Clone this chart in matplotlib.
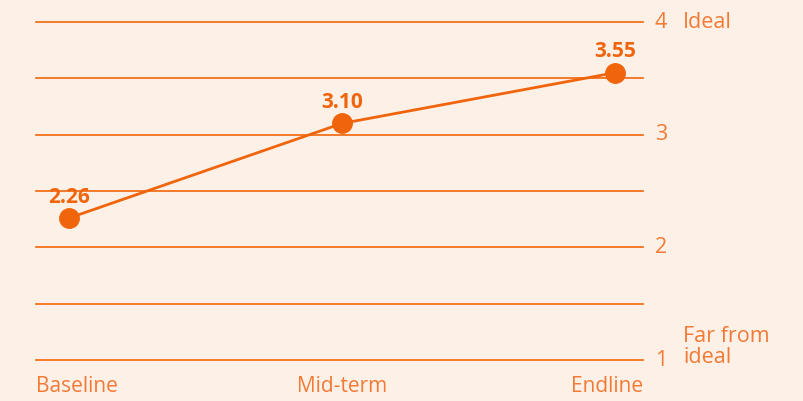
import matplotlib
matplotlib.use('Agg')
import matplotlib.pyplot as plt

# -----------------------------------------------------------------------
# Data
# -----------------------------------------------------------------------
stages = ["Baseline", "Mid-term", "Endline"]
scores = [2.26, 3.10, 3.55]
y_ticks = [1, 2, 3, 4]
grid_levels = [1, 1.5, 2, 2.5, 3, 3.5, 4]

BG = "#fdf0e7"
LINE = "#f0650c"
TEXT = "#f27a35"

plt.rcParams['font.family'] = ['Open Sans', 'DejaVu Sans']

fig = plt.figure(figsize=(8.04, 4.01), dpi=100, facecolor=BG)
ax = fig.add_axes([36 / 804, 41 / 401, 607 / 804, 338 / 401])
ax.set_facecolor(BG)

XL, XR = -0.121, 2.102
x = list(range(len(stages)))
ax.set_xlim(XL, XR)
ax.set_ylim(1, 4)

for lvl in grid_levels:
    ax.axhline(lvl, color=LINE, linewidth=1.2, clip_on=False, zorder=1)

ax.plot(x, scores, color=LINE, linewidth=2.0, marker='o', markersize=14,
        zorder=3, clip_on=False)

for xi, v in zip(x, scores):
    ax.annotate(f"{v:.2f}", (xi, v), xytext=(0, 15), textcoords='offset points',
                ha='center', va='center', fontsize=15, fontweight='bold',
                color=LINE)

for s in ax.spines.values():
    s.set_visible(False)
ax.set_xticks([])
ax.set_yticks([])

# x labels: left / centre / right aligned
aligns = ['left', 'center', 'right']
xpos = [XL, 1, XR]
for xp, lab, ha in zip(xpos, stages, aligns):
    ax.annotate(lab, (xp, 1), xytext=(0, -19), textcoords='offset points',
                ha=ha, va='center', fontsize=15, color=TEXT,
                annotation_clip=False)

# right side y labels
for t in y_ticks:
    ax.annotate(str(t), (XR, t), xytext=(13, 0), textcoords='offset points',
                ha='center', va='center', fontsize=15.5, color=TEXT,
                annotation_clip=False)

ax.annotate("Ideal", (XR, 4), xytext=(29, 0), textcoords='offset points',
            ha='left', va='center', fontsize=15.5, color=TEXT,
            annotation_clip=False)
ax.annotate("Far from\nideal", (XR, 1.115), xytext=(29, 0),
            textcoords='offset points', ha='left', va='center', fontsize=15.5,
            color=TEXT, linespacing=1.0, annotation_clip=False)

plt.savefig("out.png", dpi=100, facecolor=BG)
plt.close()
